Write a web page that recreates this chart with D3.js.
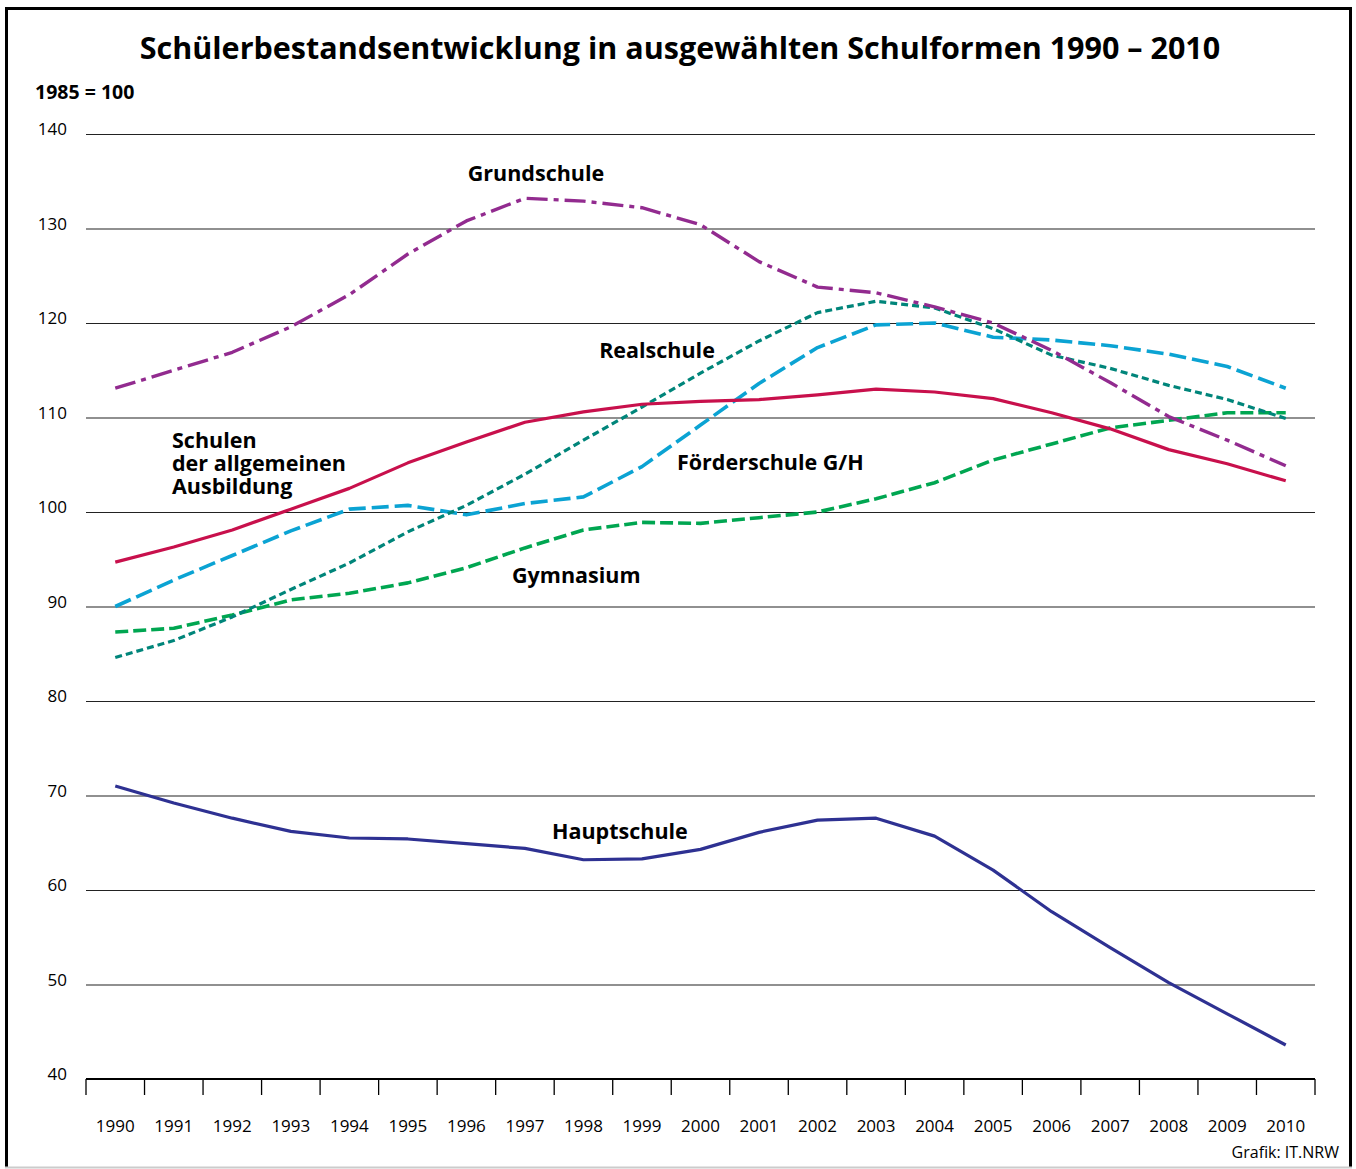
<!DOCTYPE html>
<html>
<head>
    <meta charset="utf-8">
    <title>Schülerbestandsentwicklung</title>
    <style>
        body { margin: 0; background: #fff; }
        svg text { font-family: "Open Sans", "Noto Sans", sans-serif; fill: #000; }
        .grid line { stroke: #222; stroke-width: 1.2; }
        .series { fill: none; stroke-linejoin: round; }
        .label { font-weight: bold; font-size: 21.5px; }
        .tick-label { font-size: 17px; }
    </style>
</head>
<body>
    <div id="chart"></div>

    <script src="https://d3js.org/d3.v7.min.js"></script>
    <script>
        // Jahre und Indexwerte (1985 = 100)
        var years = d3.range(1990, 2011);
        var yTicks = [40, 50, 60, 70, 80, 90, 100, 110, 120, 130, 140];

        var grundschule = [113.1, 115.0, 116.9, 119.6, 123.0, 127.3, 130.8, 133.2, 132.9, 132.2, 130.4,
            126.5, 123.8, 123.2, 121.7, 120.0, 117.1, 113.7, 110.1, 107.6, 104.9];
        var allgemein = [94.7, 96.3, 98.1, 100.3, 102.5, 105.2, 107.4, 109.5, 110.6, 111.4, 111.7,
            111.9, 112.4, 113.0, 112.7, 112.0, 110.5, 108.8, 106.6, 105.1, 103.3];
        var realschule = [84.6, 86.4, 88.9, 91.8, 94.6, 97.9, 100.7, 104.0, 107.6, 111.1, 114.7,
            118.1, 121.1, 122.3, 121.6, 119.4, 116.6, 115.2, 113.4, 111.9, 109.9];
        var foerderschule = [90.0, 92.8, 95.4, 98.0, 100.3, 100.7, 99.7, 100.9, 101.6, 104.8, 109.2,
            113.6, 117.4, 119.8, 120.0, 118.5, 118.2, 117.6, 116.7, 115.4, 113.1];
        var gymnasium = [87.3, 87.7, 89.1, 90.7, 91.4, 92.5, 94.1, 96.2, 98.1, 98.9, 98.8,
            99.4, 100.0, 101.4, 103.1, 105.5, 107.2, 108.9, 109.7, 110.5, 110.5];
        var hauptschule = [71.0, 69.2, 67.6, 66.2, 65.5, 65.4, 64.9, 64.4, 63.2, 63.3, 64.3,
            66.1, 67.4, 67.6, 65.7, 62.1, 57.7, 53.9, 50.2, 46.9, 43.6];

        var series = [
            { name: "Hauptschule", values: hauptschule, color: "#2e3192", width: 3.2, dash: null },
            { name: "Gymnasium", values: gymnasium, color: "#00a651", width: 3.6, dash: "13,5" },
            { name: "Förderschule G/H", values: foerderschule, color: "#0ba3d3", width: 3.6, dash: "17,6" },
            { name: "Realschule", values: realschule, color: "#00857a", width: 3.2, dash: "7,4" },
            { name: "Schulen der allgemeinen Ausbildung", values: allgemein, color: "#c8104c", width: 3.2, dash: null },
            { name: "Grundschule", values: grundschule, color: "#922b8f", width: 3.4, dash: "21,6,5,6" }
        ];

        var width = 1356, height = 1169;
        var plotLeft = 86, plotRight = 1315, plotTop = 134, plotBottom = 1079;

        var svg = d3.select("#chart")
            .append("svg")
            .attr("width", width)
            .attr("height", height);

        var x = d3.scaleBand()
            .domain(years)
            .range([plotLeft, plotRight]);

        var y = d3.scaleLinear()
            .domain([40, 140])
            .range([plotBottom, plotTop]);

        // Rahmen
        svg.append("path")
            .attr("d", "M6.5,1167 L6.5,8.5 L1350.5,8.5 L1350.5,1167")
            .attr("fill", "none")
            .attr("stroke", "#000")
            .attr("stroke-width", 3);
        svg.append("line")
            .attr("x1", 5).attr("x2", 1352)
            .attr("y1", 1167.5).attr("y2", 1167.5)
            .attr("stroke", "#ccc")
            .attr("stroke-width", 2);

        // Titel
        svg.append("text")
            .attr("x", 680)
            .attr("y", 59)
            .attr("text-anchor", "middle")
            .style("font-weight", "bold")
            .style("font-size", "30.5px")
            .text("Schülerbestandsentwicklung in ausgewählten Schulformen 1990 – 2010");

        svg.append("text")
            .attr("x", 35)
            .attr("y", 99)
            .style("font-weight", "bold")
            .style("font-size", "19.5px")
            .text("1985 = 100");

        // Gitterlinien
        var grid = svg.append("g")
            .attr("class", "grid")
            .attr("transform", "translate(" + plotLeft + ",0)")
            .call(d3.axisLeft(y).tickValues(yTicks.slice(1)).tickSize(-(plotRight - plotLeft)).tickFormat(""));
        grid.select(".domain").remove();

        svg.selectAll(".y-label")
            .data(yTicks)
            .enter().append("text")
            .attr("class", "tick-label")
            .attr("x", 67)
            .attr("y", function (d) { return y(d) + 1; })
            .attr("text-anchor", "end")
            .text(function (d) { return d; });

        // x-Achse
        var boundaries = years.map(function (d) { return x(d); }).concat([plotRight]);
        svg.append("line")
            .attr("x1", plotLeft).attr("x2", plotRight)
            .attr("y1", plotBottom).attr("y2", plotBottom)
            .attr("stroke", "#000")
            .attr("stroke-width", 1.8);
        svg.selectAll(".x-tick")
            .data(boundaries)
            .enter().append("line")
            .attr("x1", function (d) { return d; })
            .attr("x2", function (d) { return d; })
            .attr("y1", plotBottom)
            .attr("y2", plotBottom + 16)
            .attr("stroke", "#000")
            .attr("stroke-width", 1.3);
        svg.selectAll(".x-label")
            .data(years)
            .enter().append("text")
            .attr("class", "tick-label")
            .attr("x", function (d) { return x(d) + x.bandwidth() / 2; })
            .attr("y", 1132)
            .attr("text-anchor", "middle")
            .text(function (d) { return d; });

        // Linien
        var line = d3.line()
            .x(function (d, i) { return x(years[i]) + x.bandwidth() / 2; })
            .y(function (d) { return y(d); });

        svg.selectAll(".series")
            .data(series)
            .enter().append("path")
            .attr("class", "series")
            .attr("d", function (d) { return line(d.values); })
            .attr("stroke", function (d) { return d.color; })
            .attr("stroke-width", function (d) { return d.width; })
            .attr("stroke-dasharray", function (d) { return d.dash; });

        // Beschriftungen
        var labels = [
            { text: ["Grundschule"], x: 536, y: 181, anchor: "middle" },
            { text: ["Realschule"], x: 657, y: 358, anchor: "middle" },
            { text: ["Schulen", "der allgemeinen", "Ausbildung"], x: 172, y: 448, anchor: "start" },
            { text: ["Förderschule G/H"], x: 677, y: 470, anchor: "start" },
            { text: ["Gymnasium"], x: 512, y: 583, anchor: "start" },
            { text: ["Hauptschule"], x: 552, y: 839, anchor: "start" }
        ];

        labels.forEach(function (l) {
            var t = svg.append("text")
                .attr("class", "label")
                .attr("x", l.x)
                .attr("y", l.y)
                .attr("text-anchor", l.anchor);
            l.text.forEach(function (s, i) {
                t.append("tspan")
                    .attr("x", l.x)
                    .attr("dy", i === 0 ? 0 : 23)
                    .text(s);
            });
        });

        svg.append("text")
            .attr("x", 1339)
            .attr("y", 1158)
            .attr("text-anchor", "end")
            .style("font-size", "16px")
            .text("Grafik: IT.NRW");
    </script>
</body>
</html>
